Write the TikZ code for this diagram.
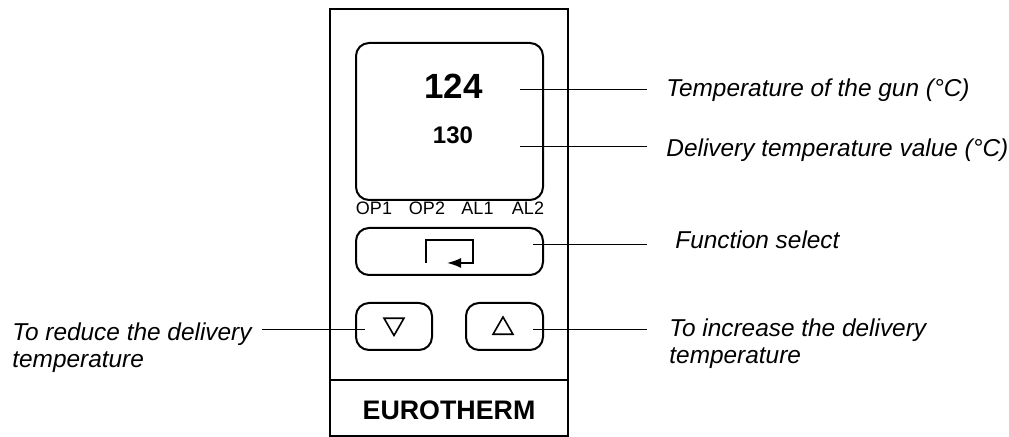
\documentclass[tikz,border=0pt]{standalone}
\usepackage{fontspec}
\setmainfont{Liberation Sans}
\usepackage{tikz}
\usetikzlibrary{arrows.meta,shapes.geometric}

\begin{document}
\begin{tikzpicture}[
  x=0.5pt, y=-0.5pt,
  frame/.style={draw=black, line width=1.1pt, inner sep=0pt, outer sep=0pt},
  key/.style={draw=black, line width=1pt, rounded corners=6.5pt, inner sep=0pt, outer sep=0pt},
  lead/.style={draw=black, line width=0.5pt},
  callout/.style={font=\fontsize{12.2}{13.5}\selectfont\itshape, align=left, inner sep=0pt, anchor=base west},
  tri/.style={regular polygon, regular polygon sides=3, draw=black, line width=0.8pt,
              minimum size=11.5pt, inner sep=0pt},
  lamp/.style={font=\fontsize{9}{10}\selectfont},
  >={Latex[length=7pt,width=5pt]},
]
\useasboundingbox (0,0) rectangle (1009,437);
% ----- controller front -----
\node[frame, minimum width=119pt, minimum height=213.5pt] (panel) at (449,222.5) {};
\coordinate (div) at (449,380);
\draw[frame] (panel.west |- div) -- (panel.east |- div);
% ----- display -----
\node[key, minimum width=93.5pt, minimum height=78.5pt] (disp) at (449.5,121.5) {};
\node[font=\fontsize{17.5}{20}\selectfont\bfseries] (pv) at (453.5,86) {124};
\node[font=\fontsize{12}{14}\selectfont\bfseries] (sp) at (453,135) {130};
\foreach \lbl/\x in {OP1/374, OP2/427, AL1/477.5, AL2/528}
  \node[lamp] (\lbl) at (\x,208.5) {\lbl};
% ----- keys -----
\node[key, minimum width=93.5pt, minimum height=23.5pt] (fn) at (449.5,251.5) {};
\draw[line width=0.9pt, ->] (426,263) -- (426,240) -- (473,240) -- (473,263) -- (447,263);
\node[key, minimum width=38pt, minimum height=23.5pt] (down) at (394,326.5) {};
\node[key, minimum width=38.5pt, minimum height=23.5pt] (up) at (504.5,326.5) {};
\node[tri, shape border rotate=180] (downsym) at (394,324) {};
\node[tri] (upsym) at (503,328.5) {};
\node[font=\fontsize{13.4}{15}\selectfont\bfseries] (brand) at (449,410.5) {EUROTHERM};
% ----- callouts -----
\node[callout] (gun) at (666,97) {Temperature of the gun (°C)};
\node[callout] (setp) at (666,157) {Delivery temperature value (°C)};
\node[callout] (fnsel) at (675,249) {Function select};
\node[callout] (dec) at (12,368) {To reduce the delivery\\temperature};
\node[callout] (inc) at (669,364) {To increase the delivery\\temperature};
\coordinate (pv end) at (520,90);
\coordinate (sp end) at (520,147);
\coordinate (fn end) at (533,245);
\coordinate (up end) at (533,330);
\coordinate (down end) at (365,330);
\draw[lead] (pv end) -- ([xshift=-9.5pt]gun.west |- pv end);
\draw[lead] (sp end) -- ([xshift=-9.5pt]setp.west |- sp end);
\draw[lead] (fn end) -- ([xshift=-14pt]fnsel.west |- fn end);
\draw[lead] (up end) -- ([xshift=-11pt]inc.west |- up end);
\draw[lead] (down end) -- ([xshift=5pt]dec.east |- down end);
\end{tikzpicture}
\end{document}
